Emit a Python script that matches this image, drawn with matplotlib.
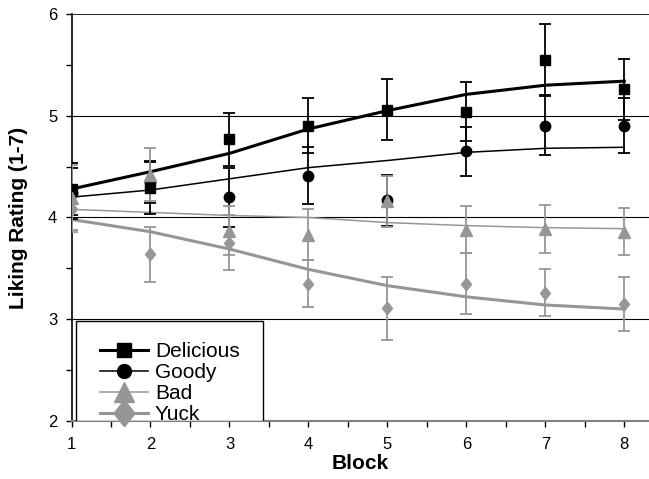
import numpy as np
import matplotlib.pyplot as plt
from matplotlib.ticker import MultipleLocator
from matplotlib.patches import Rectangle

plt.rcParams['font.family'] = ['Liberation Sans', 'DejaVu Sans']

blocks = [1, 2, 3, 4, 5, 6, 7, 8]

# medias por bloque
delicious = [4.28, 4.29, 4.77, 4.90, 5.06, 5.04, 5.55, 5.26]
goody = [4.24, 4.35, 4.20, 4.41, 4.17, 4.65, 4.90, 4.90]
bad = [4.19, 4.42, 3.87, 3.83, 4.16, 3.88, 3.89, 3.86]
yuck = [4.08, 3.64, 3.75, 3.35, 3.11, 3.35, 3.26, 3.15]

# errores
delicious_err = [0.26, 0.26, 0.26, 0.27, 0.30, 0.29, 0.35, 0.30]
goody_err = [0.25, 0.21, 0.29, 0.28, 0.25, 0.24, 0.29, 0.27]
bad_err = [0.33, 0.26, 0.24, 0.25, 0.25, 0.23, 0.235, 0.23]
yuck_err = [0.20, 0.27, 0.27, 0.23, 0.31, 0.30, 0.23, 0.27]

delicious_fit = [4.28, 4.45, 4.63, 4.87, 5.05, 5.21, 5.30, 5.34]
goody_fit = [4.20, 4.27, 4.38, 4.49, 4.56, 4.64, 4.68, 4.69]
bad_fit = [4.08, 4.05, 4.02, 4.00, 3.95, 3.92, 3.90, 3.89]
yuck_fit = [3.98, 3.86, 3.69, 3.49, 3.33, 3.22, 3.14, 3.10]

nombres = ['Delicious', 'Goody', 'Bad', 'Yuck']

fig = plt.figure(figsize=(6.49, 4.79), dpi=100)
ax = fig.add_axes([0.1102, 0.1211, 0.8898, 0.8497])

gray = '#969696'
rombo = [(0, 1), (0.8, 0), (0, -1), (-0.8, 0), (0, 1)]
series = [
    (delicious, delicious_err, delicious_fit, 'black', 's', 2.2, 7, 9.5),
    (goody, goody_err, goody_fit, 'black', 'o', 1.1, 7.5, 10),
    (bad, bad_err, bad_fit, gray, '^', 1.1, 8, 15),
    (yuck, yuck_err, yuck_fit, gray, rombo, 2.2, 9, 19),
]

for yg in [3, 4, 5]:
    ax.axhline(yg, color='black', lw=0.8, zorder=1)
ax.axhline(6, color='black', lw=1.2, zorder=1)

handles = []
for y, e, fit, c, m, lw, ms, ms_leg in series:
    ax.errorbar(blocks, y, yerr=e, fmt='none', ecolor=c, elinewidth=1.3,
                capsize=4.5, capthick=1.3, zorder=3)
    ax.plot(blocks, y, linestyle='none', marker=m, color=c, markersize=ms, zorder=4)
    ax.plot(blocks, fit, color=c, lw=lw, zorder=2)
    h, = ax.plot([], [], color=c, lw=lw, marker=m, markersize=ms_leg)
    handles.append(h)

ax.set_xlim(1, 8.313)
ax.set_ylim(2, 6)
ax.xaxis.set_major_locator(MultipleLocator(1))
ax.xaxis.set_minor_locator(MultipleLocator(0.5))
ax.yaxis.set_major_locator(MultipleLocator(1))
ax.yaxis.set_minor_locator(MultipleLocator(0.5))
ax.tick_params(which='both', direction='out', labelsize=12, length=4.3, width=1)
ax.tick_params(axis='y', which='both', pad=6)
ax.tick_params(axis='x', which='both', pad=7)

ax.spines['top'].set_visible(False)
ax.spines['right'].set_visible(False)
ax.spines['bottom'].set_color('#808080')
ax.spines['bottom'].set_linewidth(1.5)
ax.spines['left'].set_linewidth(1.2)

ax.set_xlabel('Block', fontsize=15, fontweight='bold', labelpad=2)
ax.set_ylabel('Liking Rating (1-7)', fontsize=15, fontweight='bold', labelpad=14)

# marco de la leyenda
ax.add_patch(Rectangle((0.0078, 0.0), 0.3238, 0.2457, transform=ax.transAxes,
                       facecolor='white', edgecolor='black', lw=1.0, zorder=8))

leg = ax.legend(handles, nombres, loc='lower left', bbox_to_anchor=(0.05, -0.008),
                fontsize=15, frameon=False, borderpad=0, labelspacing=0.1,
                handlelength=2.27, handletextpad=0.35, borderaxespad=0)
leg.set_zorder(10)

fig.savefig('out.png', dpi=100)
